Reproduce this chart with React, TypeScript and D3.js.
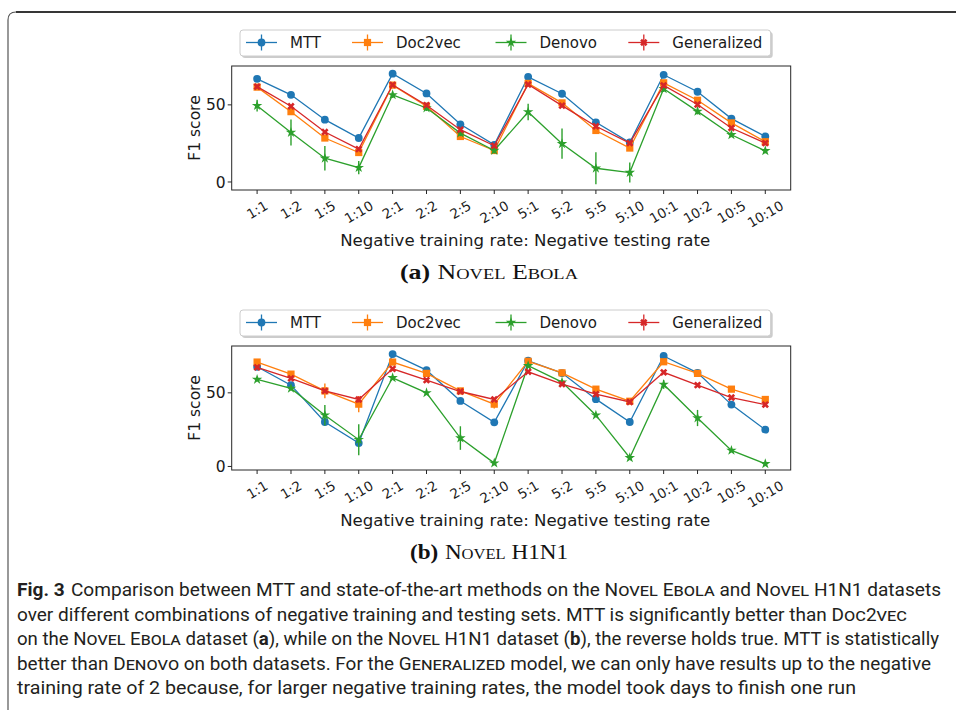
import React from 'react';
import * as d3 from 'd3';

const categories = ["1:1", "1:2", "1:5", "1:10", "2:1", "2:2", "2:5", "2:10", "5:1", "5:2", "5:5", "5:10", "10:1", "10:2", "10:5", "10:10"];
const seriesNames = ["MTT", "Doc2vec", "Denovo", "Generalized"];
const seriesColors = ["#1f77b4", "#ff7f0e", "#2ca02c", "#d62728"];
const yTicks = [0, 50];

// (a) Novel Ebola
const mttEbola = [66.9, 56.5, 40.4, 28.5, 70.2, 57.4, 37.4, 24.1, 68.2, 57.2, 38.7, 25.6, 69.5, 58.5, 41.1, 29.5];
const mttEbolaErr = [0.8, 0.8, 0.8, 0.8, 0.8, 0.8, 0.8, 0.8, 0.8, 0.8, 0.8, 0.8, 0.8, 0.8, 0.8, 0.8];
const doc2vecEbola = [61.5, 45.6, 28.5, 19.1, 62.8, 49.1, 29.5, 20.4, 63.9, 51.3, 33.4, 22.0, 64.3, 53.0, 38.3, 26.1];
const doc2vecEbolaErr = [1, 1, 1, 1, 1, 1, 1, 1, 1, 1, 1, 1, 1, 1, 1, 1];
const denovoEbola = [49.5, 32.1, 15.4, 9.3, 56.5, 48.0, 31.7, 20.4, 45.4, 24.8, 8.9, 6.1, 60.4, 45.8, 30.6, 20.2];
const denovoEbolaErr = [3.8, 8.4, 8, 4.3, 2, 2, 2, 2, 5.4, 9.8, 10.4, 6.5, 2, 2, 1.5, 1.5];
const generalizedEbola = [61.8, 49.1, 32.4, 21.3, 63.0, 49.8, 33.9, 23.5, 63.2, 49.5, 36.1, 25.2, 62.6, 50.2, 35.0, 25.2];
const generalizedEbolaErr = [1, 1, 1, 1, 1, 1, 1, 1, 1, 1, 1, 1, 1, 1, 1, 1];

// (b) Novel H1N1
const mttH1N1 = [67.7, 55.2, 30.2, 15.9, 76.3, 65.4, 44.5, 30.0, 71.8, 63.4, 45.7, 30.2, 75.0, 63.6, 42.0, 25.0];
const mttH1N1Err = [1, 1, 1, 1, 1, 1, 1, 1, 1, 1, 1, 1, 1, 1, 1, 1];
const doc2vecH1N1 = [70.9, 62.7, 51.3, 42.3, 70.9, 63.2, 51.3, 42.3, 71.4, 63.6, 52.5, 44.3, 71.1, 63.2, 52.5, 45.5];
const doc2vecH1N1Err = [1, 1, 5, 5.5, 1, 1, 2, 3, 1, 1, 1, 1, 1, 1, 1, 1];
const denovoH1N1 = [59.1, 53.0, 34.8, 18.2, 60.2, 50.0, 19.3, 2.3, 68.4, 57.3, 34.8, 5.9, 55.7, 32.9, 10.9, 1.8];
const denovoH1N1Err = [1, 1, 7, 10.5, 1, 1, 8, 1, 1, 1, 1, 1, 3, 5.5, 1, 1];
const generalizedH1N1 = [67.3, 59.8, 51.3, 45.5, 66.3, 58.6, 50.9, 45.5, 64.3, 55.9, 49.1, 43.8, 63.9, 55.2, 46.8, 42.0];
const generalizedH1N1Err = [1, 1, 1, 2, 1, 1, 1, 1, 1, 1, 1, 1, 1, 1, 1, 1];

const xLabel = "Negative training rate: Negative testing rate";
const yLabel = "F1 score";

const SANS = "'DejaVu Sans', sans-serif";
const SERIF = "'Liberation Serif', 'DejaVu Serif', serif";

const starPath = d3.symbol().type(d3.symbolStar).size(34)()!;
const crossPath = d3.symbol().type(d3.symbolCross).size(34)()!;

function Marker({ kind, x, y, color }: { kind: number; x: number; y: number; color: string }) {
  if (kind === 0) return <circle cx={x} cy={y} r={3.9} fill={color} />;
  if (kind === 1) return <rect x={x - 3.6} y={y - 3.6} width={7.2} height={7.2} fill={color} />;
  if (kind === 2) return <path d={starPath} transform={`translate(${x},${y})`} fill={color} />;
  return <path d={crossPath} transform={`translate(${x},${y}) rotate(45)`} fill={color} />;
}

function Panel({ off, values, errors, domain, letter, title }: any) {
  const left = 231.7, right = 790.7, top = 66 + off, bottom = 190 + off;
  const x = d3.scalePoint<string>().domain(categories).range([left, right]).padding(0.75);
  const y = d3.scaleLinear().domain(domain).range([bottom, top]);
  const line = d3.line<number>().x((_, i) => x(categories[i])!).y(d => y(d));
  const tickFs = 13.5;
  const legendX = [246, 352, 495.5, 628.3];
  const ly = 42.5 + off;
  return (
    <g>
      <rect x={left} y={top} width={right - left} height={bottom - top} fill="none" stroke="#262626" strokeWidth={1} />
      {yTicks.map(t => (
        <g key={t}>
          <line x1={left - 4} x2={left} y1={y(t)} y2={y(t)} stroke="#262626" />
          <text x={left - 6} y={y(t)} dy="0.36em" textAnchor="end" fontFamily={SANS} fontSize={15.5} fill="#1a1a1a">{t}</text>
        </g>
      ))}
      {categories.map(c => {
        const cx = x(c)!;
        const w = c.split('').reduce((s, ch) => s + (ch === ':' ? 0.337 : 0.636), 0) * tickFs;
        const h = 0.73 * tickFs;
        const cy = bottom + 10 + (w * 0.5 + h * 0.866) / 2;
        return (
          <g key={c}>
            <line x1={cx} x2={cx} y1={bottom} y2={bottom + 4} stroke="#262626" />
            <text transform={`translate(${cx},${cy}) rotate(-30)`} dy="0.365em" textAnchor="middle" fontFamily={SANS} fontSize={tickFs} fill="#1a1a1a">{c}</text>
          </g>
        );
      })}
      <text transform={`translate(195,${(top + bottom) / 2}) rotate(-90)`} dy="0.35em" textAnchor="middle" fontFamily={SANS} fontSize={15.5} fill="#1a1a1a">{yLabel}</text>
      <text x={(left + right) / 2 + 14} y={240 + off} dy="0.35em" textAnchor="middle" fontFamily={SANS} fontSize={16.6} fill="#1a1a1a">{xLabel}</text>
      {values.map((vals: number[], si: number) => (
        <g key={si}>
          {vals.map((v, i) => (
            <line key={i} x1={x(categories[i])} x2={x(categories[i])} y1={y(v - errors[si][i])} y2={y(v + errors[si][i])} stroke={seriesColors[si]} strokeWidth={1.4} />
          ))}
          <path d={line(vals)!} fill="none" stroke={seriesColors[si]} strokeWidth={1.3} />
          {vals.map((v, i) => (
            <Marker key={'m' + i} kind={si} x={x(categories[i])!} y={y(v)} color={seriesColors[si]} />
          ))}
        </g>
      ))}
      <rect x={242} y={32 + off} width={530.7} height={26} rx={3} fill="#999" opacity={0.5} />
      <rect x={240} y={30 + off} width={530.7} height={26} rx={3} fill="#fff" stroke="#cccccc" strokeWidth={1} />
      {seriesNames.map((n, si) => (
        <g key={n}>
          <line x1={legendX[si]} x2={legendX[si] + 31} y1={ly} y2={ly} stroke={seriesColors[si]} strokeWidth={1.3} />
          <line x1={legendX[si] + 15.5} x2={legendX[si] + 15.5} y1={ly - 8} y2={ly + 8} stroke={seriesColors[si]} strokeWidth={1.3} />
          <Marker kind={si} x={legendX[si] + 15.5} y={ly} color={seriesColors[si]} />
          <text x={legendX[si] + 44} y={ly} dy="0.36em" fontFamily={SANS} fontSize={15} fill="#1a1a1a">{n}</text>
        </g>
      ))}
      <text x={letter === 'a' ? 400 : 410} y={272 + off} dy="0.35em" fontFamily={SERIF} fontSize={21} fill="#111"
        textLength={letter === 'a' ? 178 : 158} lengthAdjust="spacingAndGlyphs">
        <tspan fontWeight="bold">({letter})</tspan>
        <tspan dx={6} style={{ fontVariant: 'small-caps' }}>{title}</tspan>
      </text>
    </g>
  );
}

const CAP = "Roboto, 'Noto Sans', sans-serif";
const sc = { fontVariant: 'small-caps' as const };

export default function App() {
  const lineYs = [590, 614.5, 639, 663.5, 688];
  const lineEnds = [941, 907, 939, 931, 856];
  const capStart = 17;
  return (
    <svg width={956} height={710} style={{ position: 'absolute', left: 0, top: 0 }}>
      <rect width={956} height={710} fill="#fff" />
      <path d="M8,710 L8,20 Q8,12 16,12 L956,12" fill="none" stroke="#555" strokeWidth={1.2} />
      <line x1={16} x2={956} y1={12} y2={12} stroke="#111" strokeWidth={1.4} />
      <Panel off={0} values={[mttEbola, doc2vecEbola, denovoEbola, generalizedEbola]}
        errors={[mttEbolaErr, doc2vecEbolaErr, denovoEbolaErr, generalizedEbolaErr]}
        domain={[-5.2, 75.2]} letter="a" title="Novel Ebola" />
      <Panel off={280} values={[mttH1N1, doc2vecH1N1, denovoH1N1, generalizedH1N1]}
        errors={[mttH1N1Err, doc2vecH1N1Err, denovoH1N1Err, generalizedH1N1Err]}
        domain={[-2.4, 81.8]} letter="b" title="Novel H1N1" />
      <g fontFamily={CAP} fontSize={18} fill="#231f20">
        <text x={capStart} y={lineYs[0]} dy="0.35em" textLength={lineEnds[0] - capStart} lengthAdjust="spacingAndGlyphs">
          <tspan fontWeight="bold">Fig. 3</tspan>
          <tspan dx={6}>Comparison between MTT and state-of-the-art methods on the </tspan>
          <tspan style={sc}>Novel Ebola</tspan>
          <tspan> and </tspan>
          <tspan style={sc}>Novel</tspan>
          <tspan> H1N1 datasets</tspan>
        </text>
        <text x={capStart} y={lineYs[1]} dy="0.35em" textLength={lineEnds[1] - capStart} lengthAdjust="spacingAndGlyphs">
          <tspan>over different combinations of negative training and testing sets. MTT is significantly better than </tspan>
          <tspan style={sc}>Doc2vec</tspan>
        </text>
        <text x={capStart} y={lineYs[2]} dy="0.35em" textLength={lineEnds[2] - capStart} lengthAdjust="spacingAndGlyphs">
          <tspan>on the </tspan>
          <tspan style={sc}>Novel Ebola</tspan>
          <tspan> dataset (</tspan>
          <tspan fontWeight="bold">a</tspan>
          <tspan>), while on the </tspan>
          <tspan style={sc}>Novel</tspan>
          <tspan> H1N1 dataset (</tspan>
          <tspan fontWeight="bold">b</tspan>
          <tspan>), the reverse holds true. MTT is statistically</tspan>
        </text>
        <text x={capStart} y={lineYs[3]} dy="0.35em" textLength={lineEnds[3] - capStart} lengthAdjust="spacingAndGlyphs">
          <tspan>better than </tspan>
          <tspan style={sc}>Denovo</tspan>
          <tspan> on both datasets. For the </tspan>
          <tspan style={sc}>Generalized</tspan>
          <tspan> model, we can only have results up to the negative</tspan>
        </text>
        <text x={capStart} y={lineYs[4]} dy="0.35em" textLength={lineEnds[4] - capStart} lengthAdjust="spacingAndGlyphs">
          training rate of 2 because, for larger negative training rates, the model took days to finish one run
        </text>
      </g>
    </svg>
  );
}
